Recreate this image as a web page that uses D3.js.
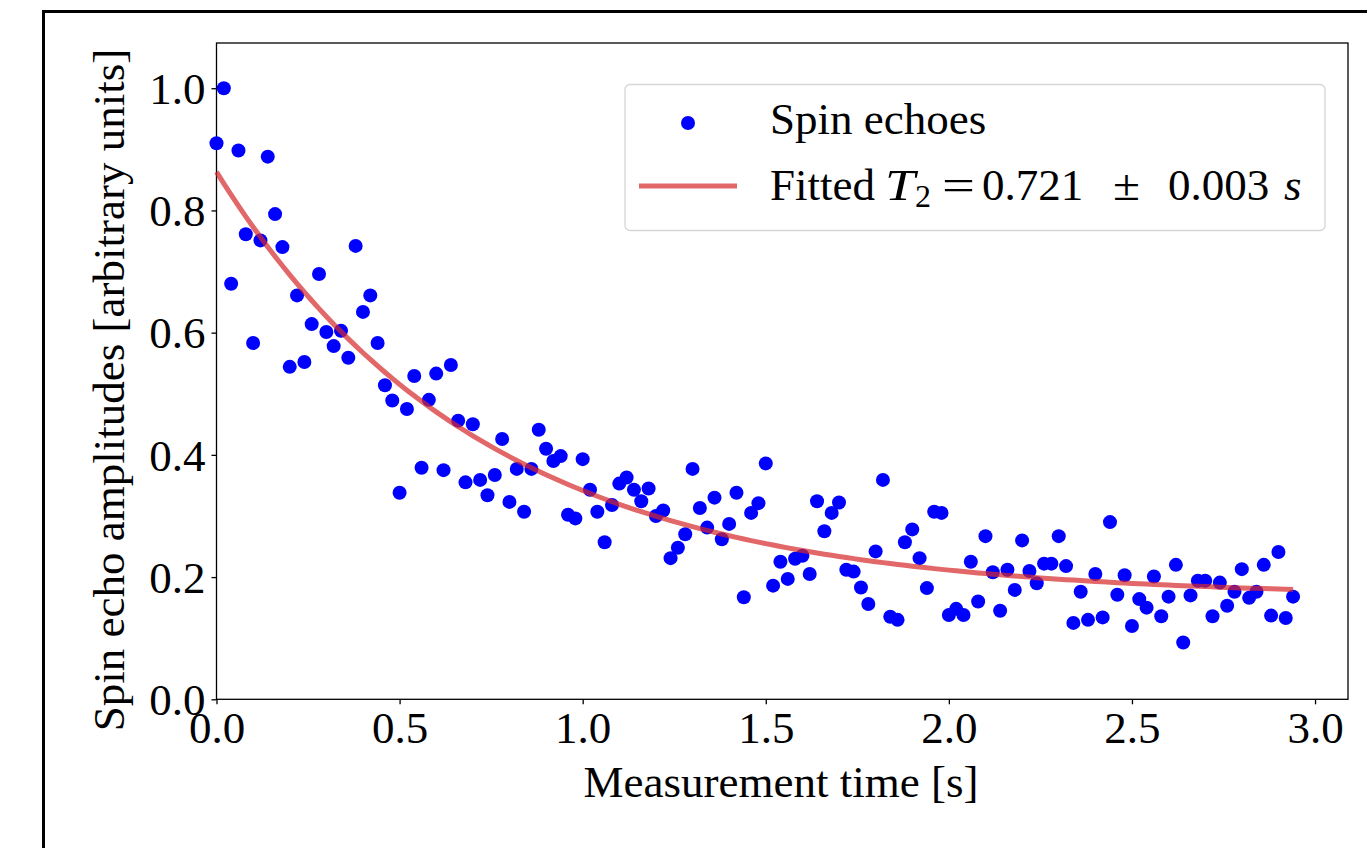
<!DOCTYPE html>
<html>
<head>
<meta charset="utf-8">
<script src="https://cdnjs.cloudflare.com/ajax/libs/d3/7.8.5/d3.min.js"></script>
<style>
  html, body { margin: 0; padding: 0; background: #fff; overflow: hidden; }
  svg { display: block; }
  text { font-family: "Liberation Serif", "Times New Roman", serif; fill: #000; }
</style>
</head>
<body>
<svg id="chart" width="1367" height="848"></svg>
<script>
// ---- data ----
const times = [
  0.00,0.02,0.04,0.06,0.08,0.10,0.12,0.14,0.16,0.18,
  0.20,0.22,0.24,0.26,0.28,0.30,0.32,0.34,0.36,0.38,
  0.40,0.42,0.44,0.46,0.48,0.50,0.52,0.54,0.56,0.58,
  0.60,0.62,0.64,0.66,0.68,0.70,0.72,0.74,0.76,0.78,
  0.80,0.82,0.84,0.86,0.88,0.90,0.92,0.94,0.96,0.98,
  1.00,1.02,1.04,1.06,1.08,1.10,1.12,1.14,1.16,1.18,
  1.20,1.22,1.24,1.26,1.28,1.30,1.32,1.34,1.36,1.38,
  1.40,1.42,1.44,1.46,1.48,1.50,1.52,1.54,1.56,1.58,
  1.60,1.62,1.64,1.66,1.68,1.70,1.72,1.74,1.76,1.78,
  1.80,1.82,1.84,1.86,1.88,1.90,1.92,1.94,1.96,1.98,
  2.00,2.02,2.04,2.06,2.08,2.10,2.12,2.14,2.16,2.18,
  2.20,2.22,2.24,2.26,2.28,2.30,2.32,2.34,2.36,2.38,
  2.40,2.42,2.44,2.46,2.48,2.50,2.52,2.54,2.56,2.58,
  2.60,2.62,2.64,2.66,2.68,2.70,2.72,2.74,2.76,2.78,
  2.80,2.82,2.84,2.86,2.88,2.90,2.92,2.94
];
const amplitudes = [
  0.910,1.000,0.680,0.898,0.761,0.583,0.751,0.888,0.794,0.740,
  0.544,0.661,0.552,0.614,0.696,0.601,0.578,0.603,0.559,0.742,
  0.634,0.661,0.583,0.514,0.489,0.338,0.475,0.529,0.379,0.490,
  0.533,0.375,0.547,0.456,0.355,0.450,0.359,0.334,0.367,0.426,
  0.323,0.377,0.307,0.377,0.441,0.410,0.390,0.398,0.302,0.296,
  0.393,0.343,0.307,0.257,0.318,0.353,0.363,0.343,0.324,0.345,
  0.300,0.309,0.231,0.248,0.270,0.377,0.313,0.281,0.330,0.262,
  0.287,0.338,0.167,0.305,0.321,0.386,0.186,0.225,0.197,0.230,
  0.235,0.205,0.324,0.275,0.305,0.322,0.212,0.209,0.183,0.156,
  0.242,0.359,0.135,0.130,0.257,0.278,0.231,0.182,0.307,0.305,
  0.138,0.148,0.138,0.225,0.160,0.267,0.208,0.145,0.212,0.179,
  0.260,0.210,0.190,0.222,0.222,0.267,0.218,0.125,0.176,0.130,
  0.205,0.134,0.290,0.171,0.203,0.120,0.164,0.150,0.201,0.136,
  0.168,0.220,0.093,0.170,0.194,0.194,0.136,0.191,0.153,0.176,
  0.213,0.166,0.176,0.220,0.137,0.241,0.133,0.168
];
// fitted model parameters: A * exp(-t / T2) + C
const fitA = 0.695;
const fitT2 = 0.721;
const fitT2Err = 0.003;
const fitC = 0.168;
const xTicks = [0.0, 0.5, 1.0, 1.5, 2.0, 2.5, 3.0];
const yTicks = [0.0, 0.2, 0.4, 0.6, 0.8, 1.0];
const xLabel = "Measurement time [s]";
const yLabel = "Spin echo amplitudes [arbitrary units]";
const legendPoints = "Spin echoes";

// ---- layout ----
const svg = d3.select("#chart");
const plot = { left: 216.5, right: 1348, top: 43, bottom: 699.3 };

// figure frame
svg.append("rect")
  .attr("x", 43.5).attr("y", 11.5)
  .attr("width", 1400).attr("height", 900)
  .attr("fill", "none").attr("stroke", "#000").attr("stroke-width", 3);

const x = d3.scaleLinear().domain([0, 3.09]).range([plot.left, plot.right]);
const y = d3.scaleLinear().domain([0, 1.074]).range([plot.bottom, plot.top]);

// axes box
svg.append("rect")
  .attr("x", plot.left).attr("y", plot.top)
  .attr("width", plot.right - plot.left).attr("height", plot.bottom - plot.top)
  .attr("fill", "#fff").attr("stroke", "#000").attr("stroke-width", 1.3);

// x axis
const xAxis = svg.append("g")
  .attr("transform", `translate(0,${plot.bottom})`)
  .call(d3.axisBottom(x).tickValues(xTicks).tickFormat(d3.format(".1f")).tickSizeOuter(0).tickSize(5).tickPadding(6));
xAxis.select(".domain").remove();
xAxis.selectAll(".tick line").attr("stroke", "#000").attr("stroke-width", 1.3);
xAxis.selectAll(".tick text")
  .style("font-family", '"Liberation Serif", serif')
  .style("font-size", "45px").attr("fill", "#000").attr("dy", "0.72em");

// y axis
const yAxis = svg.append("g")
  .attr("transform", `translate(${plot.left},0)`)
  .call(d3.axisLeft(y).tickValues(yTicks).tickFormat(d3.format(".1f")).tickSizeOuter(0).tickSize(5).tickPadding(6));
yAxis.select(".domain").remove();
yAxis.selectAll(".tick line").attr("stroke", "#000").attr("stroke-width", 1.3);
yAxis.selectAll(".tick text")
  .style("font-family", '"Liberation Serif", serif')
  .style("font-size", "45px").attr("fill", "#000").attr("dy", "0.34em");

// axis labels
svg.append("text")
  .attr("x", 781).attr("y", 797)
  .attr("text-anchor", "middle")
  .style("font-size", "45px")
  .text(xLabel);
svg.append("text")
  .attr("transform", `translate(124,390) rotate(-90)`)
  .attr("text-anchor", "middle")
  .style("font-size", "45px")
  .text(yLabel);

// points
const data = times.map((t, i) => ({ t, v: amplitudes[i] }));
svg.append("g")
  .selectAll("circle")
  .data(data)
  .join("circle")
  .attr("cx", d => x(d.t))
  .attr("cy", d => y(d.v))
  .attr("r", 7)
  .attr("fill", "#0000ff");

// fitted curve
const fitData = times.map(t => ({ t, v: fitA * Math.exp(-t / fitT2) + fitC }));
svg.append("path")
  .datum(fitData)
  .attr("d", d3.line().x(d => x(d.t)).y(d => y(d.v)))
  .attr("fill", "none")
  .attr("stroke", "#d62728")
  .attr("stroke-opacity", 0.7)
  .attr("stroke-width", 5);

// legend
const lg = svg.append("g");
lg.append("rect")
  .attr("x", 625).attr("y", 84.5)
  .attr("width", 700).attr("height", 146)
  .attr("rx", 5).attr("ry", 5)
  .attr("fill", "#fff").attr("fill-opacity", 0.8)
  .attr("stroke", "#d6d6d6").attr("stroke-width", 1.3);
lg.append("circle").attr("cx", 688).attr("cy", 123).attr("r", 7).attr("fill", "#0000ff");
lg.append("text").attr("x", 770).attr("y", 134).style("font-size", "45px").text(legendPoints);
lg.append("line")
  .attr("x1", 639).attr("x2", 737).attr("y1", 186).attr("y2", 186)
  .attr("stroke", "#d62728").attr("stroke-opacity", 0.7).attr("stroke-width", 5);
const lineY = 200;
const parts = [
  { x: 770, text: "Fitted", italic: false, size: 45, dy: 0, len: null },
  { x: 885, text: "T", italic: true, size: 45, dy: 0, len: 30 },
  { x: 915, text: "2", italic: false, size: 32, dy: 7, len: null },
  { x: 942, text: "=", italic: false, size: 45, dy: 0, len: 33 },
  { x: 982, text: fitT2.toFixed(3), italic: false, size: 45, dy: 0, len: null },
  { x: 1113, text: "±", italic: false, size: 45, dy: 0, len: 27 },
  { x: 1168, text: fitT2Err.toFixed(3), italic: false, size: 45, dy: 0, len: null },
  { x: 1284, text: "s", italic: true, size: 45, dy: 0, len: null }
];
lg.selectAll("text.fit")
  .data(parts)
  .join("text")
  .attr("class", "fit")
  .attr("x", d => d.x)
  .attr("y", d => lineY + d.dy)
  .attr("textLength", d => d.len)
  .attr("lengthAdjust", "spacingAndGlyphs")
  .style("font-size", d => d.size + "px")
  .style("font-style", d => d.italic ? "italic" : "normal")
  .text(d => d.text);
</script>
</body>
</html>
